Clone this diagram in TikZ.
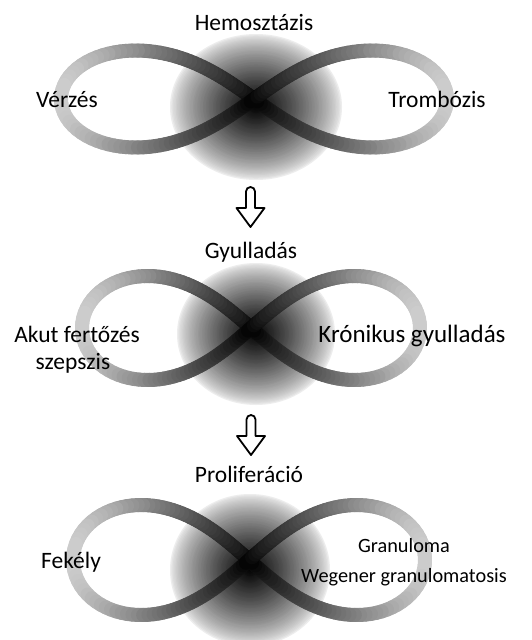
\documentclass[tikz,border=0pt]{standalone}
\usepackage{fontspec}
\setmainfont{Carlito}
\begin{document}
\begin{tikzpicture}[x=1pt,y=-1pt,
  lbl/.style={inner sep=0pt, anchor=base, font=\fontsize{23.5}{28}\selectfont},
  lblbig/.style={lbl, font=\fontsize{25}{30}\selectfont},
  lblsmall/.style={lbl, font=\fontsize{20.3}{24}\selectfont},
  band/.style={line width=14pt, line cap=round},
  hollowarrow/.style={draw=black, fill=white, line width=1.8pt, line join=round}]
\useasboundingbox (0,0) rectangle (531,640);
\fill[white] (0,0) rectangle (531,640);

% haze clouds: nested ellipses, darker towards the middle
\foreach \cx/\cy/\rx/\ry in {256/107/86/73, 256/334/79/71, 250/570/80/76} {
  \foreach \j in {0,...,59} {
    \pgfmathsetmacro\s{1-\j/60}
    \pgfmathtruncatemacro\d{7+93*(1-\s)^0.75}
    \fill[black!\d] (\cx,\cy) ellipse [x radius=\s*\rx, y radius=\s*\ry];
  }
}

% infinity bands: lemniscates drawn in short pieces, darker towards the crossing
\foreach \cx/\cy/\a/\b in {254/99/193/48.5, 251/328/169/52, 249/560/176/55} {
  \foreach \i in {0,...,179} {
    \pgfmathsetmacro\ta{2*\i}
    \pgfmathsetmacro\tb{2*\i+2}
    \pgfmathsetmacro\u{abs(cos(2*\i+1))/(1+sin(2*\i+1)^2)}
    \pgfmathtruncatemacro\k{100-80*max(\u,0.001)^0.85}
    \draw[band, draw=black!\k]
      ({\cx+\a*cos(\ta)/(1+sin(\ta)^2)}, {\cy+\b*2.8284*sin(\ta)*cos(\ta)/(1+sin(\ta)^2)}) --
      ({\cx+\a*cos(\tb)/(1+sin(\tb)^2)}, {\cy+\b*2.8284*sin(\tb)*cos(\tb)/(1+sin(\tb)^2)});
  }
}

% hollow down arrows between the stages
\foreach \x/\top/\neck/\tip in {250.5/187/208/227, 251/415/436/455}
  \draw[hollowarrow] (\x-4.5,\neck) -- (\x-4.5,\top+4.5)
    arc[start angle=-180, end angle=0, radius=4.5]
    -- (\x+4.5,\neck) -- (\x+14,\neck) -- (\x,\tip) -- (\x-14,\neck) -- cycle;

% labels
\node[lbl] (hemo) at (254,30) {Hemosztázis};
\node[lbl] (verzes) at (67,107) {Vérzés};
\node[lbl] (tromb) at (437,107) {Trombózis};
\node[lbl] (gyull) at (251,258) {Gyulladás};
\node[lbl] (akut) at (77,342) {Akut fertőzés};
\node[lbl] (szep) at (73,369) {szepszis};
\node[lblbig] (kron) at (412,342) {Krónikus gyulladás};
\node[lbl] (prolif) at (249,482) {Proliferáció};
\node[lbl] (fek) at (71,568) {Fekély};
\node[lblsmall] (gran) at (404,552) {Granuloma};
\node[lblsmall] (weg) at (404,582) {Wegener granulomatosis};
\end{tikzpicture}
\end{document}
